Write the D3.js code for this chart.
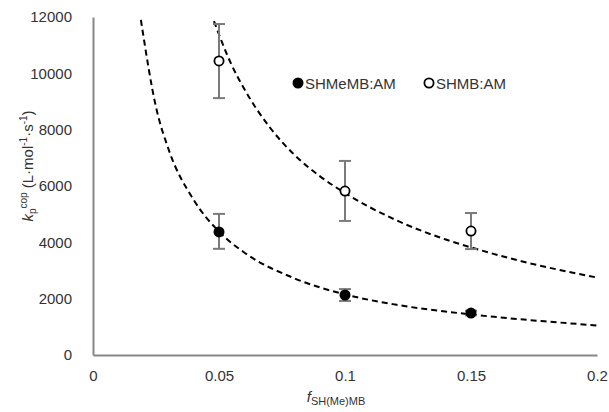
<!DOCTYPE html>
<html><head><meta charset="utf-8">
<script src="https://cdn.jsdelivr.net/npm/d3@7"></script>
<style>body{margin:0;background:#fff}svg{display:block}text{font-family:"Liberation Sans",Arial,sans-serif;fill:#333}</style>
</head><body>
<script>
const xTicks = [0, 0.05, 0.1, 0.15, 0.2];
const xTickLabels = ["0", "0.05", "0.1", "0.15", "0.2"];
const yTicks = [0, 2000, 4000, 6000, 8000, 10000, 12000];
const fVals = [0.05, 0.1, 0.15];
const shmemb = [4370, 2130, 1490];
const shmembLo = [3770, 1920, 1410];
const shmembHi = [5010, 2340, 1570];
const shmb = [10440, 5820, 4400];
const shmbLo = [9120, 4760, 3760];
const shmbHi = [11750, 6890, 5040];
const fitLowX = [0.019, 0.025, 0.03, 0.04, 0.05, 0.06, 0.08, 0.1, 0.12, 0.15, 0.18, 0.2];
const fitLowY = [11900, 8800, 7300, 5500, 4380, 3640, 2720, 2150, 1790, 1440, 1190, 1050];
const fitHighX = [0.048, 0.055, 0.06, 0.07, 0.08, 0.09, 0.1, 0.12, 0.14, 0.15, 0.17, 0.2];
const fitHighY = [11850, 10300, 9450, 8100, 7100, 6350, 5750, 4800, 4100, 3820, 3330, 2750];
const legendLabels = ["SHMeMB:AM", "SHMB:AM"];

const W = 609, H = 412;
const svg = d3.select("body").append("svg").attr("width", W).attr("height", H);
const x = d3.scaleLinear().domain([0, 0.2]).range([93, 597]);
const y = d3.scaleLinear().domain([0, 12000]).range([355, 17]);

// axes
const gx = svg.append("g").attr("transform", `translate(0,${y(0)})`)
  .call(d3.axisBottom(x).tickValues(xTicks).tickFormat((d,i)=>xTickLabels[i]).tickSize(0).tickPadding(15));
const gy = svg.append("g").attr("transform", `translate(${x(0)},0)`)
  .call(d3.axisLeft(y).tickValues(yTicks).tickFormat(d3.format("d")).tickSize(0).tickPadding(21));
[gx, gy].forEach(g => {
  g.select(".domain").attr("stroke", "#878787").attr("stroke-width", 2);
  g.selectAll("text").style("font-size", "15px").attr("fill", "#333");
});

// fit curves
const line = d3.line().x(d => x(d[0])).y(d => y(d[1])).curve(d3.curveMonotoneX);
const fits = [d3.zip(fitLowX, fitLowY), d3.zip(fitHighX, fitHighY)];
svg.append("g").selectAll("path").data(fits).join("path")
  .attr("d", line).attr("fill", "none").attr("stroke", "#000")
  .attr("stroke-width", 2).attr("stroke-dasharray", "6,4");

// error bars
function errBars(vals, lo, hi) {
  const g = svg.append("g").attr("stroke", "#7a7a7a").attr("stroke-width", 2);
  fVals.forEach((f, i) => {
    g.append("line").attr("x1", x(f)).attr("x2", x(f)).attr("y1", y(lo[i])).attr("y2", y(hi[i]));
    [lo[i], hi[i]].forEach(v => g.append("line").attr("x1", x(f) - 6).attr("x2", x(f) + 6).attr("y1", y(v)).attr("y2", y(v)));
  });
}
errBars(shmemb, shmembLo, shmembHi);
errBars(shmb, shmbLo, shmbHi);

// markers
svg.append("g").selectAll("circle").data(d3.zip(fVals, shmemb)).join("circle")
  .attr("cx", d => x(d[0])).attr("cy", d => y(d[1])).attr("r", 5.5).attr("fill", "#000");
svg.append("g").selectAll("circle").data(d3.zip(fVals, shmb)).join("circle")
  .attr("cx", d => x(d[0])).attr("cy", d => y(d[1])).attr("r", 4.6)
  .attr("fill", "#fff").attr("stroke", "#000").attr("stroke-width", 1.8);

// legend
const leg = svg.append("g");
leg.append("circle").attr("cx", 298).attr("cy", 83).attr("r", 5.5).attr("fill", "#000");
leg.append("text").attr("x", 305).attr("y", 88.5).style("font-size", "15px").text(legendLabels[0]);
leg.append("circle").attr("cx", 429).attr("cy", 83).attr("r", 4.6).attr("fill", "#fff").attr("stroke", "#000").attr("stroke-width", 1.8);
leg.append("text").attr("x", 436).attr("y", 88.5).style("font-size", "15px").text(legendLabels[1]);

// x title
const xt = svg.append("text").attr("x", 336).attr("y", 402).attr("text-anchor", "middle").style("font-size", "15px");
xt.append("tspan").style("font-style", "italic").text("f");
xt.append("tspan").attr("dy", 3).style("font-size", "11px").text("SH(Me)MB");

// y title
const yt = svg.append("text").attr("transform", "translate(33,166) rotate(-90)").attr("text-anchor", "middle").style("font-size", "15px");
yt.append("tspan").style("font-style", "italic").text("k");
yt.append("tspan").attr("dy", 3).style("font-size", "10px").text("p");
yt.append("tspan").attr("dy", -9).style("font-size", "10px").text("cop");
yt.append("tspan").attr("dy", 6).text(" (L·mol");
yt.append("tspan").attr("dy", -6).style("font-size", "10px").text("-1");
yt.append("tspan").attr("dy", 6).text("·s");
yt.append("tspan").attr("dy", -6).style("font-size", "10px").text("-1");
yt.append("tspan").attr("dy", 6).text(")");
</script>
</body></html>
